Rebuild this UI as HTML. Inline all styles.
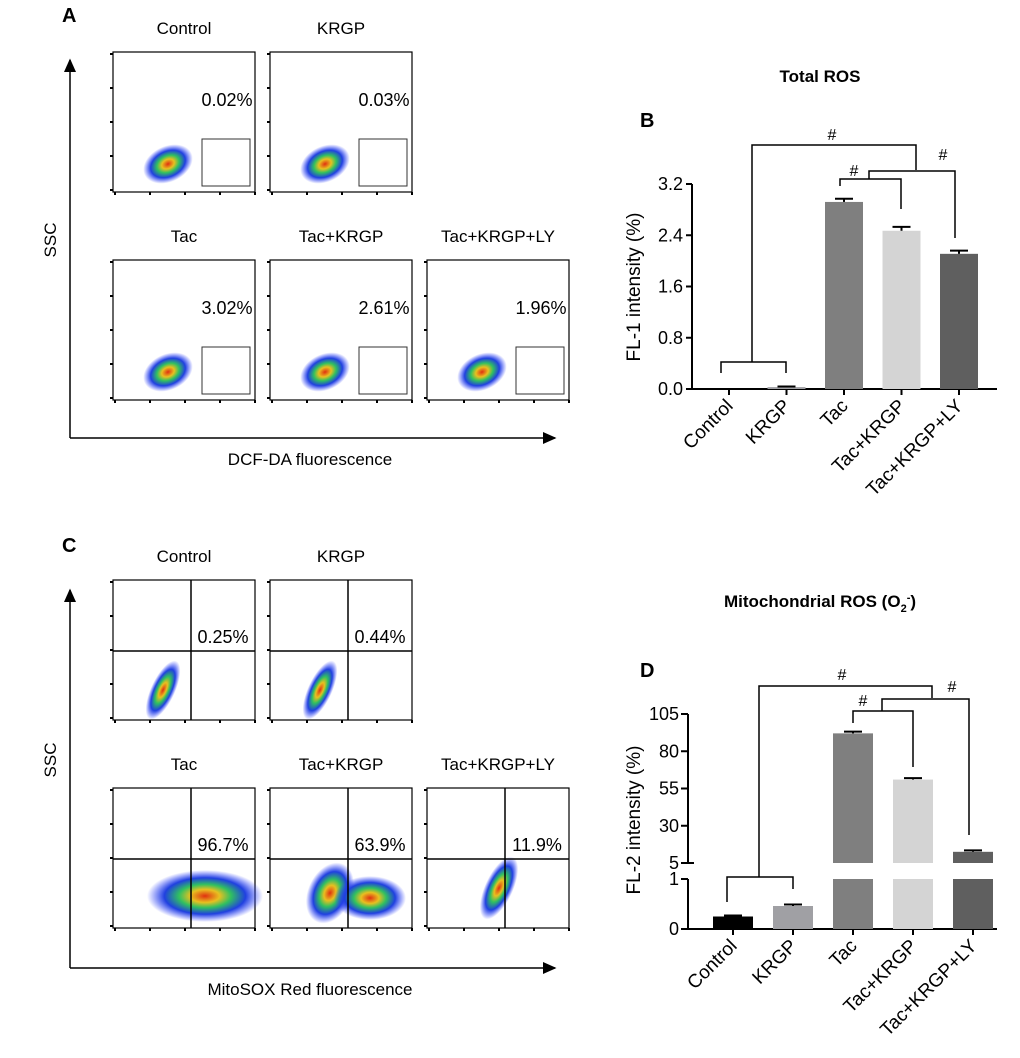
<!DOCTYPE html>
<html><head><meta charset="utf-8">
<style>
body{margin:0;background:#fff;}
svg{display:block;font-family:"Liberation Sans",Arial,sans-serif;}
</style></head>
<body>
<svg id="fig" width="1020" height="1058" viewBox="0 0 1020 1058">
<defs>
<radialGradient id="cloud" cx="50%" cy="50%" r="50%">
<stop offset="0" stop-color="#e03010"/>
<stop offset="0.25" stop-color="#e8c020"/>
<stop offset="0.45" stop-color="#30c060"/>
<stop offset="0.7" stop-color="#2040e0"/>
<stop offset="1" stop-color="#3040ff" stop-opacity="0"/>
</radialGradient>
<marker id="arr" markerWidth="10" markerHeight="10" refX="8" refY="5" orient="auto"><path d="M0,1 L9,5 L0,9 Z" fill="#000"/></marker>
</defs>
<g id="root"></g>
</svg>
<script>
// ----- Panel B data -----
const bCategories = ["Control","KRGP","Tac","Tac+KRGP","Tac+KRGP+LY"];
const bValues = [0.0, 0.03, 2.92, 2.47, 2.11];
const bErrors = [0.0, 0.01, 0.05, 0.06, 0.05];
const bTicks = [0.0, 0.8, 1.6, 2.4, 3.2];
const bTickLabels = ["0.0","0.8","1.6","2.4","3.2"];
// ----- Panel D data -----
const dCategories = ["Control","KRGP","Tac","Tac+KRGP","Tac+KRGP+LY"];
const dValues = [0.25, 0.46, 92, 61, 12.5];
const dErrors = [0.02, 0.03, 1.2, 1.0, 1.0];
const dLowTicks = [0, 1];
const dHighTicks = [5, 30, 55, 80, 105];
// ----- Flow cytometry percentages -----
const aLabels = ["Control","KRGP","Tac","Tac+KRGP","Tac+KRGP+LY"];
const aPercents = ["0.02%","0.03%","3.02%","2.61%","1.96%"];
const cLabels = ["Control","KRGP","Tac","Tac+KRGP","Tac+KRGP+LY"];
const cPercents = ["0.25%","0.44%","96.7%","63.9%","11.9%"];
const colors = ["#000000","#a0a0a4","#7f7f7f","#d4d4d4","#5f5f5f"];

const NS="http://www.w3.org/2000/svg";
const root=document.getElementById('root');
function mk(tag,attrs,parent,text){const e=document.createElementNS(NS,tag);for(const k in attrs)e.setAttribute(k,attrs[k]);if(text!==undefined)e.textContent=text;(parent||root).appendChild(e);return e;}

[["A",62,22],["B",640,127],["C",62,552],["D",640,677]].forEach(p=>{
 const t=mk('text',{x:p[1],y:p[2],'font-size':20,'font-weight':'bold'},root,p[0]);
 
 
});

function flowPanel(prefix,labels,percents,y0,quad){
 const pos=[[113,y0],[270,y0],[113,y0+208],[270,y0+208],[427,y0+208]];
 pos.forEach((p,i)=>{
  const g=mk('g',{});
  
  
  const w=142,h=140,x=p[0],y=p[1];
  mk('text',{x:x+w/2,y:y-18,'text-anchor':'middle','font-size':17},g,labels[i]);
  mk('rect',{x:x,y:y,width:w,height:h,fill:'#fff',stroke:'#000','stroke-width':1.2},g);
  for(let k=0;k<5;k++){mk('line',{x1:x,x2:x-3,y1:y+2+k*34,y2:y+2+k*34,stroke:'#000','stroke-width':2},g);
   mk('line',{x1:x+2+k*35,x2:x+2+k*35,y1:y+h,y2:y+h+3,stroke:'#000','stroke-width':2},g);}
  if(quad){
   if(i<2){mk('ellipse',{cx:x+50,cy:y+110,rx:12,ry:32,transform:`rotate(25 ${x+50} ${y+110})`,fill:'url(#cloud)'},g);}
   else if(i===2){mk('ellipse',{cx:x+92,cy:y+108,rx:58,ry:26,fill:'url(#cloud)'},g);}
   else if(i===3){mk('ellipse',{cx:x+60,cy:y+105,rx:22,ry:32,transform:`rotate(25 ${x+60} ${y+105})`,fill:'url(#cloud)'},g);
    mk('ellipse',{cx:x+100,cy:y+110,rx:36,ry:22,fill:'url(#cloud)'},g);}
   else {mk('ellipse',{cx:x+72,cy:y+100,rx:14,ry:34,transform:`rotate(25 ${x+72} ${y+100})`,fill:'url(#cloud)'},g);}
   mk('line',{x1:x+78,x2:x+78,y1:y,y2:y+h,stroke:'#000','stroke-width':1.5},g);
   mk('line',{x1:x,x2:x+w,y1:y+71,y2:y+71,stroke:'#000','stroke-width':1.5},g);
   mk('text',{x:x+110,y:y+63,'text-anchor':'middle','font-size':18},g,percents[i]);
  } else {
   mk('ellipse',{cx:x+55,cy:y+h-28,rx:26,ry:18,transform:`rotate(-25 ${x+55} ${y+h-28})`,fill:'url(#cloud)'},g);
   mk('rect',{x:x+89,y:y+87,width:48,height:47,fill:'none',stroke:'#333','stroke-width':1},g);
   mk('text',{x:x+114,y:y+54,'text-anchor':'middle','font-size':18},g,percents[i]);
  }
 });
}
flowPanel('a',aLabels,aPercents,52,false);
flowPanel('c',cLabels,cPercents,580,true);

[[438,60,"DCF-DA fluorescence",240,465,'a'],[968,590,"MitoSOX Red fluorescence",760,995,'c']].forEach(a=>{
 const g=mk('g',{});
 
 
 mk('line',{x1:70,y1:a[0],x2:70,y2:a[1],stroke:'#000','stroke-width':1.5,'marker-end':'url(#arr)'},g);
 mk('line',{x1:70,y1:a[0],x2:555,y2:a[0],stroke:'#000','stroke-width':1.5,'marker-end':'url(#arr)'},g);
 mk('text',{x:310,y:a[4],'text-anchor':'middle','font-size':17},g,a[2]);
 mk('text',{x:56,y:a[3],'text-anchor':'middle','font-size':17,transform:`rotate(-90 56 ${a[3]})`},g,"SSC");
});

(function(){
 const x0=692,xEnd=997,y0=389,yTop=184,max=3.2;
 const ys=v=>y0-(v/max)*(y0-yTop);
 const xs=i=>729+i*57.5;
 const g=mk('g',{});
 
 
 mk('text',{x:820,y:82,'text-anchor':'middle','font-size':17,'font-weight':'bold'},g,"Total ROS");
 mk('line',{x1:x0,x2:x0,y1:yTop,y2:y0,stroke:'#000','stroke-width':2},g);
 mk('line',{x1:x0,x2:xEnd,y1:y0,y2:y0,stroke:'#000','stroke-width':2},g);
 bTicks.forEach((t,i)=>{
  mk('line',{x1:x0-6,x2:x0,y1:ys(t),y2:ys(t),stroke:'#000','stroke-width':2},g);
  const tl=mk('text',{x:x0-9,y:ys(t)+6,'text-anchor':'end','font-size':18},g,bTickLabels[i]);
  
  
 });
 const yl=mk('text',{x:640,y:287,'text-anchor':'middle','font-size':19,transform:'rotate(-90 640 287)'},g,"FL-1 intensity (%)");
 
 
 bValues.forEach((v,i)=>{
  const cx=xs(i);
  const r=mk('rect',{x:cx-19,y:ys(v),width:38,height:y0-ys(v),fill:colors[i]},g);
  
  
  if(v>0){const ye=ys(v+bErrors[i]);
   mk('line',{x1:cx,x2:cx,y1:ys(v),y2:ye,stroke:'#000','stroke-width':2},g);
   mk('line',{x1:cx-9,x2:cx+9,y1:ye,y2:ye,stroke:'#000','stroke-width':2},g);}
  mk('line',{x1:cx,x2:cx,y1:y0,y2:y0+6,stroke:'#000','stroke-width':2},g);
  const t=mk('text',{x:cx+5,y:y0+18,'text-anchor':'end','font-size':19,transform:`rotate(-45 ${cx+5} ${y0+18})`},g,bCategories[i]);
  
  
 });
 const br='fill:none;stroke:#000;stroke-width:1.5';
 mk('path',{d:'M721,373 V362 H786 V373',style:br},g);
 mk('path',{d:'M752,362 V145 H916 V170',style:br},g);
 mk('path',{d:'M840,186 V179 H901 V209',style:br},g);
 mk('path',{d:'M869,179 V171 H955 V238',style:br},g);
 mk('text',{x:832,y:140,'text-anchor':'middle','font-size':16},g,'#');
 mk('text',{x:854,y:176,'text-anchor':'middle','font-size':16},g,'#');
 mk('text',{x:943,y:160,'text-anchor':'middle','font-size':16},g,'#');
})();

(function(){
 const x0=688,xEnd=997,y0=929;
 const yLow=v=>y0-v*50;
 const yHigh=v=>863-(v-5)*1.49;
 const xs=i=>733+i*60;
 const g=mk('g',{});
 
 
 const tt=mk('text',{x:820,y:607,'text-anchor':'middle','font-size':17,'font-weight':'bold'},g);
 tt.innerHTML='Mitochondrial ROS (O<tspan font-size="11" dy="5">2</tspan><tspan font-size="11" dy="-11">-</tspan><tspan dy="6">)</tspan>';
 mk('line',{x1:x0,x2:x0,y1:879,y2:y0,stroke:'#000','stroke-width':2},g);
 mk('line',{x1:x0,x2:x0,y1:714,y2:863,stroke:'#000','stroke-width':2},g);
 mk('line',{x1:x0,x2:xEnd,y1:y0,y2:y0,stroke:'#000','stroke-width':2},g);
 dLowTicks.forEach(t=>{
  mk('line',{x1:x0-7,x2:x0,y1:yLow(t),y2:yLow(t),stroke:'#000','stroke-width':2},g);
  mk('text',{x:x0-9,y:yLow(t)+6,'text-anchor':'end','font-size':18},g,String(t));
 });
 dHighTicks.forEach(t=>{
  mk('line',{x1:x0-7,x2:x0+(t===5?6:0),y1:yHigh(t),y2:yHigh(t),stroke:'#000','stroke-width':2},g);
  mk('text',{x:x0-9,y:yHigh(t)+6,'text-anchor':'end','font-size':18},g,String(t));
 });
 const yl=mk('text',{x:640,y:820,'text-anchor':'middle','font-size':19,transform:'rotate(-90 640 820)'},g,"FL-2 intensity (%)");
 
 
 dValues.forEach((v,i)=>{
  const cx=xs(i);
  let topY;
  if(v<=1){topY=yLow(v);
   const r=mk('rect',{x:cx-20,y:topY,width:40,height:y0-topY,fill:colors[i]},g);
   
   
  } else {
   topY=yHigh(v);
   const r1=mk('rect',{x:cx-20,y:879,width:40,height:y0-879,fill:colors[i]},g);
   
   
   const r=mk('rect',{x:cx-20,y:topY,width:40,height:863-topY,fill:colors[i]},g);
   
   
  }
  const ye=(v<=1)?yLow(v+dErrors[i]):yHigh(v+dErrors[i]);
  mk('line',{x1:cx,x2:cx,y1:topY,y2:ye,stroke:'#000','stroke-width':2},g);
  mk('line',{x1:cx-9,x2:cx+9,y1:ye,y2:ye,stroke:'#000','stroke-width':2},g);
  mk('line',{x1:cx,x2:cx,y1:y0,y2:y0+6,stroke:'#000','stroke-width':2},g);
  const t=mk('text',{x:cx+5,y:y0+18,'text-anchor':'end','font-size':19,transform:`rotate(-45 ${cx+5} ${y0+18})`},g,dCategories[i]);
  
  
 });
 const br='fill:none;stroke:#000;stroke-width:1.5';
 mk('path',{d:'M727,902 V877 H793 V889',style:br},g);
 mk('path',{d:'M759,877 V686 H932 V698',style:br},g);
 mk('path',{d:'M853,723 V711 H913 V767',style:br},g);
 mk('path',{d:'M882,711 V699 H969 V835',style:br},g);
 mk('text',{x:842,y:680,'text-anchor':'middle','font-size':16},g,'#');
 mk('text',{x:863,y:706,'text-anchor':'middle','font-size':16},g,'#');
 mk('text',{x:952,y:692,'text-anchor':'middle','font-size':16},g,'#');
})();
</script>
</body></html>
